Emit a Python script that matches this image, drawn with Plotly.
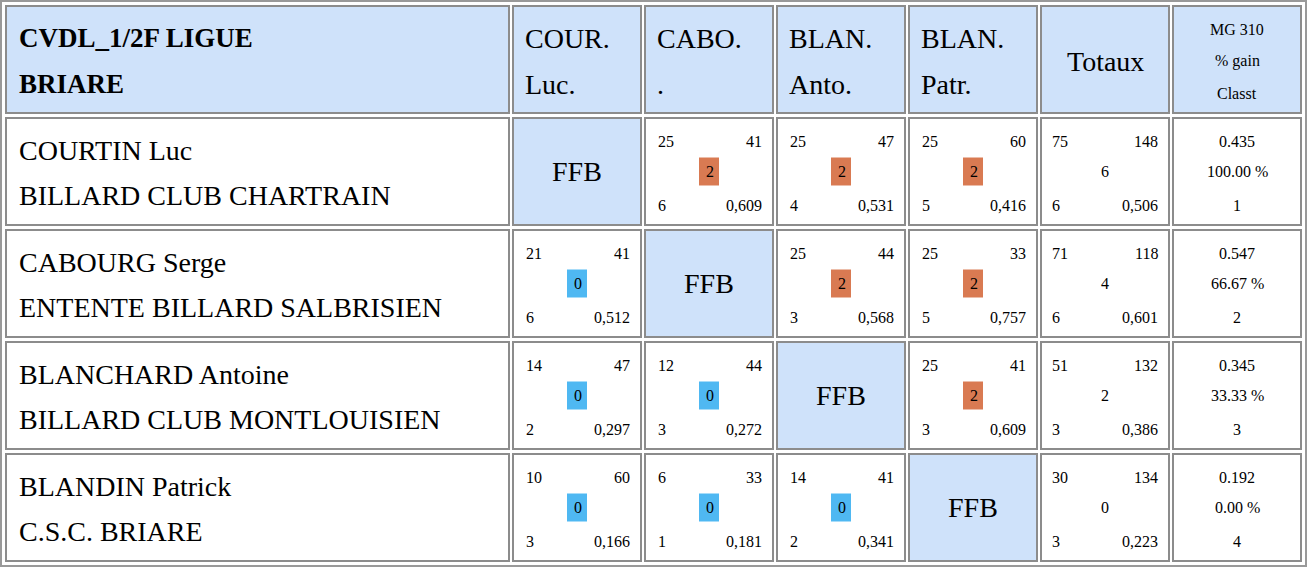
import plotly.graph_objects as go

# Données
titre = ["CVDL_1/2F LIGUE", "BRIARE"]
entetes = [["COUR.", "Luc."], ["CABO.", "."], ["BLAN.", "Anto."], ["BLAN.", "Patr."]]
joueurs = ["COURTIN Luc", "CABOURG Serge", "BLANCHARD Antoine", "BLANDIN Patrick"]
clubs = ["BILLARD CLUB CHARTRAIN", "ENTENTE BILLARD SALBRISIEN",
         "BILLARD CLUB MONTLOUISIEN", "C.S.C. BRIARE"]
# [points, reprises, points match, meilleure série, moyenne]
matchs = [
    [None, ["25", "41", 2, "6", "0,609"], ["25", "47", 2, "4", "0,531"], ["25", "60", 2, "5", "0,416"]],
    [["21", "41", 0, "6", "0,512"], None, ["25", "44", 2, "3", "0,568"], ["25", "33", 2, "5", "0,757"]],
    [["14", "47", 0, "2", "0,297"], ["12", "44", 0, "3", "0,272"], None, ["25", "41", 2, "3", "0,609"]],
    [["10", "60", 0, "3", "0,166"], ["6", "33", 0, "1", "0,181"], ["14", "41", 0, "2", "0,341"], None],
]
totaux = [["75", "148", "6", "6", "0,506"], ["71", "118", "4", "6", "0,601"],
          ["51", "132", "2", "3", "0,386"], ["30", "134", "0", "3", "0,223"]]
moyennes = ["0.435", "0.547", "0.345", "0.192"]
gains = ["100.00 %", "66.67 %", "33.33 %", "0.00 %"]
classts = ["1", "2", "3", "4"]

col_x = [(6, 509), (513, 641), (645, 773), (777, 905), (909, 1037), (1041, 1169), (1173, 1301)]
row_y = [(6, 113), (118, 225), (230, 337), (342, 449), (454, 561)]
BLEU = "#cfe2fa"
FONT = "'Liberation Serif', 'Times New Roman', Times, serif"

fig = go.Figure()
shapes, ann = [], []

def cell(x0, x1, y0, y1, fill):
    shapes.append(dict(type="rect", x0=x0, x1=x1, y0=y0, y1=y1, fillcolor=fill,
                       line=dict(color="#8c8c8c", width=2), layer="below"))

def txt(x, y, s, size, anchor="center", bold=False):
    if bold:
        s = "<b>" + s + "</b>"
    ann.append(dict(x=x, y=y, text=s, showarrow=False, xanchor=anchor, yanchor="middle",
                    font=dict(family=FONT, size=size, color="black")))

shapes.append(dict(type="rect", x0=1, x1=1306, y0=1, y1=566, line=dict(color="#999", width=2), layer="below"))

# En-tête
for c, (x0, x1) in enumerate(col_x):
    cell(x0, x1, row_y[0][0], row_y[0][1], BLEU)
txt(17, 38, titre[0], 27, "left", True)
txt(17, 84, titre[1], 27, "left", True)
for i, e in enumerate(entetes):
    x0 = col_x[i + 1][0]
    txt(x0 + 10, 38, e[0], 28, "left")
    txt(x0 + 10, 84, e[1], 28, "left")
txt((col_x[5][0] + col_x[5][1]) / 2, 61, "Totaux", 28)
xc6 = (col_x[6][0] + col_x[6][1]) / 2
txt(xc6, 29, "MG 310", 16)
txt(xc6, 61, "% gain", 16)
txt(xc6, 93, "Classt", 16)

for r in range(4):
    y0, y1 = row_y[r + 1]
    ym = (y0 + y1) / 2
    cell(*col_x[0], y0, y1, "white")
    txt(17, y0 + 32, joueurs[r], 28, "left")
    txt(17, y0 + 77, clubs[r], 28, "left")
    for c in range(4):
        x0, x1 = col_x[c + 1]
        m = matchs[r][c]
        if m is None:
            cell(x0, x1, y0, y1, BLEU)
            txt((x0 + x1) / 2, ym, "FFB", 28)
            continue
        cell(x0, x1, y0, y1, "white")
        xm = (x0 + x1) / 2
        txt(x0 + 11, y0 + 23, m[0], 16, "left")
        txt(x1 - 9, y0 + 23, m[1], 16, "right")
        shapes.append(dict(type="rect", x0=xm - 10, x1=xm + 10, y0=ym - 14, y1=ym + 14,
                           fillcolor="#d97a52" if m[2] == 2 else "#4fb8f2", line=dict(width=0)))
        txt(xm - 5, ym, str(m[2]), 16, "left")
        txt(x0 + 11, y0 + 87, m[3], 16, "left")
        txt(x1 - 9, y0 + 87, m[4], 16, "right")
    x0, x1 = col_x[5]
    cell(x0, x1, y0, y1, "white")
    t = totaux[r]
    txt(x0 + 9, y0 + 23, t[0], 16, "left")
    txt(x1 - 9, y0 + 23, t[1], 16, "right")
    txt((x0 + x1) / 2, ym, t[2], 16)
    txt(x0 + 9, y0 + 87, t[3], 16, "left")
    txt(x1 - 9, y0 + 87, t[4], 16, "right")
    cell(*col_x[6], y0, y1, "white")
    txt(xc6, y0 + 23, moyennes[r], 16)
    txt(xc6, ym, gains[r], 16)
    txt(xc6, y0 + 87, classts[r], 16)

fig.update_layout(width=1307, height=568, margin=dict(l=0, r=0, t=0, b=0),
                  paper_bgcolor="white", plot_bgcolor="white", shapes=shapes, annotations=ann,
                  xaxis=dict(range=[0, 1307], visible=False, fixedrange=True),
                  yaxis=dict(range=[568, 0], visible=False, fixedrange=True),
                  showlegend=False)
fig.write_html("out.html", config={"displayModeBar": False},
               post_script="document.body.style.margin='0';document.body.style.overflow='hidden';")
